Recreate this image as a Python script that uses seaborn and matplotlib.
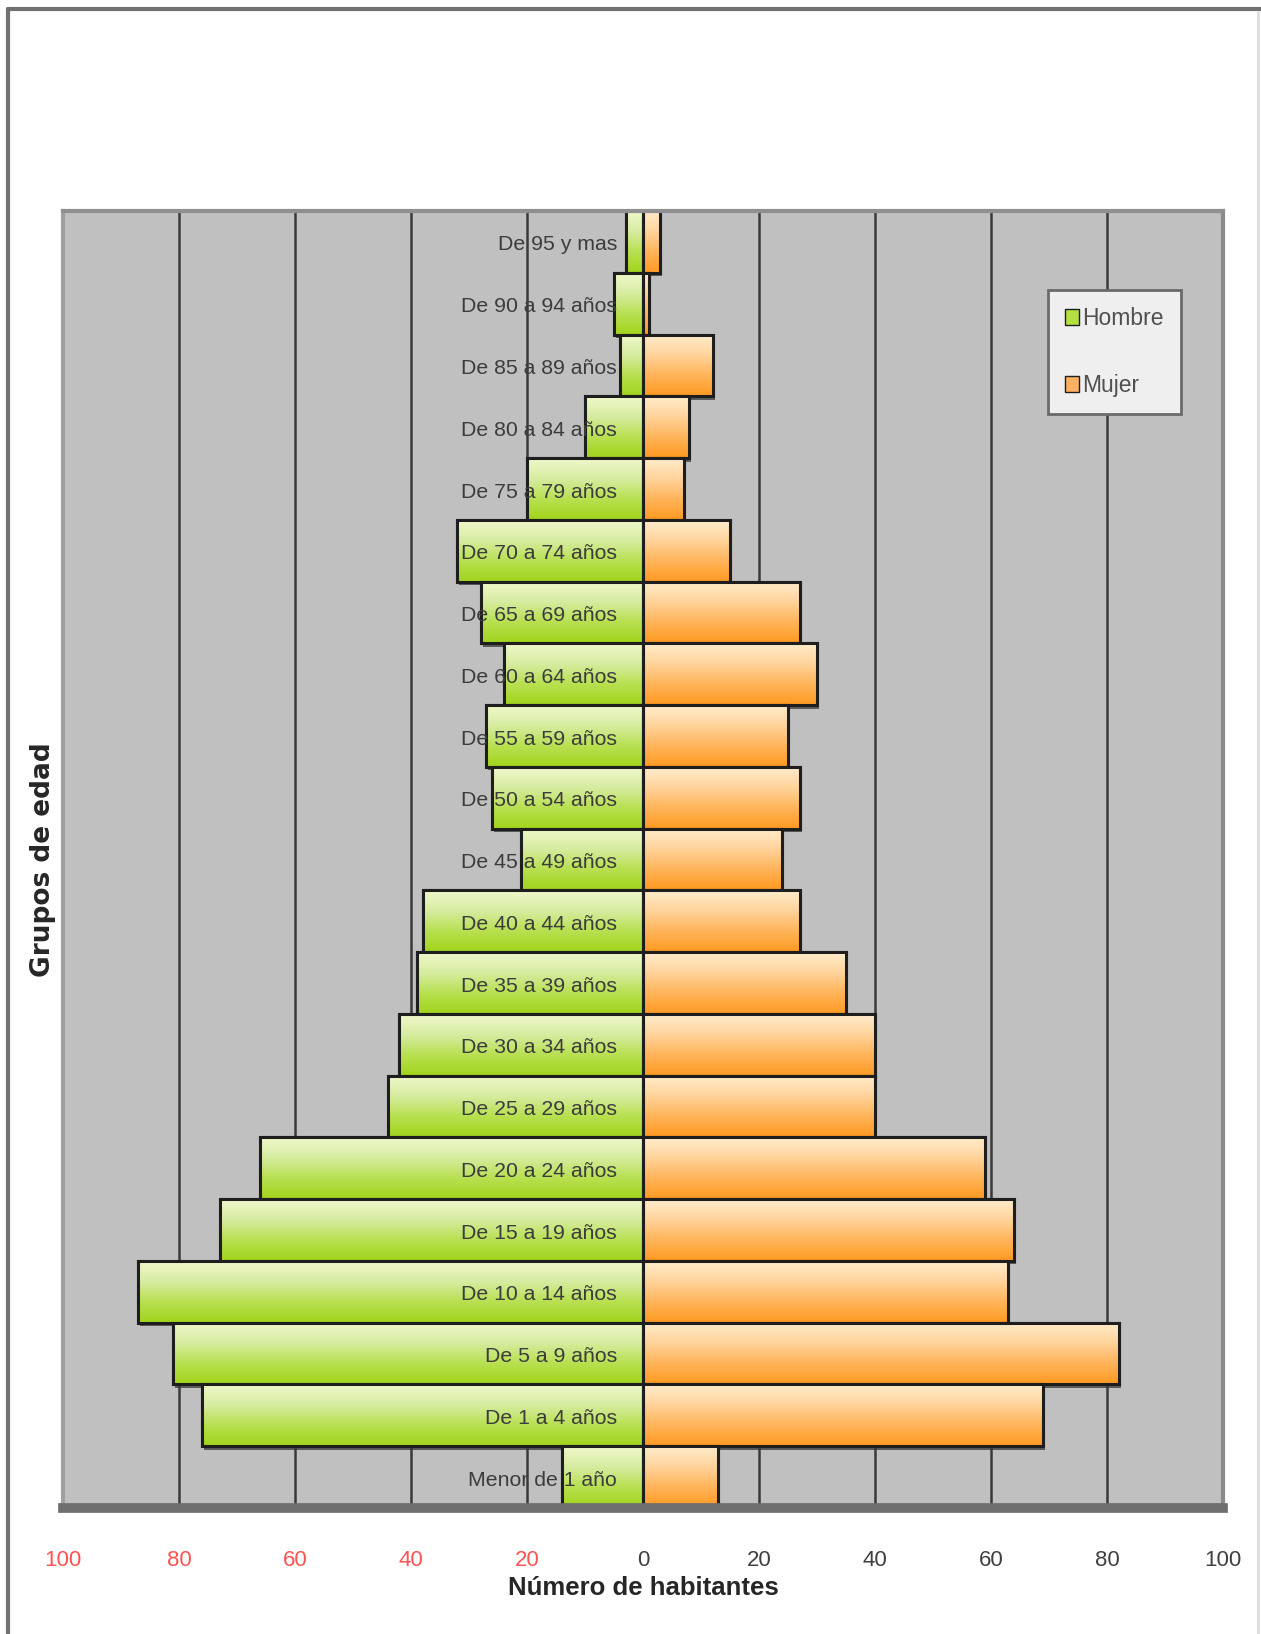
import numpy as np
import pandas as pd
import matplotlib
matplotlib.use("Agg")
import matplotlib.pyplot as plt
import matplotlib.font_manager as fm
import matplotlib.patheffects as pe
import seaborn as sns
from matplotlib.patches import Patch
from matplotlib.lines import Line2D
from matplotlib.colors import LinearSegmentedColormap

grupos = ["De 95 y mas", "De 90 a 94 años", "De 85 a 89 años", "De 80 a 84 años",
          "De 75 a 79 años", "De 70 a 74 años", "De 65 a 69 años", "De 60 a 64 años",
          "De 55 a 59 años", "De 50 a 54 años", "De 45 a 49 años", "De 40 a 44 años",
          "De 35 a 39 años", "De 30 a 34 años", "De 25 a 29 años", "De 20 a 24 años",
          "De 15 a 19 años", "De 10 a 14 años", "De 5 a 9 años", "De 1 a 4 años",
          "Menor de 1 año"]
hombre = [3, 5, 4, 10, 20, 32, 28, 24, 27, 26, 21, 38, 39, 42, 44, 66, 73, 87, 81, 76, 14]
mujer = [3, 1, 12, 8, 7, 15, 27, 30, 25, 27, 24, 27, 35, 40, 40, 59, 64, 63, 82, 69, 13]
ticks = [-100, -80, -60, -40, -20, 0, 20, 40, 60, 80, 100]

df = pd.DataFrame({"grupo": grupos, "hombre": [-v for v in hombre], "mujer": mujer})

sns.set_style("white")
installed = {f.name for f in fm.fontManager.ttflist}
if "Liberation Sans Narrow" in installed:
    base, k = "Liberation Sans Narrow", 1.2
else:
    base, k = "Liberation Sans", 1.0
plt.rcParams["font.family"] = [base, "DejaVu Sans"]

W, H = 1261, 1634
fig = plt.figure(figsize=(W / 100, H / 100), dpi=100)
ax = fig.add_axes([63 / W, 1 - 1508 / H, 1160 / W, 1297 / H])
ax.set_facecolor("#c0c0c0")

for x in ticks[1:-1]:
    ax.axvline(x, color="#3a3a3a", lw=1.8, zorder=0.5)

sns.barplot(data=df, x="hombre", y="grupo", order=grupos, color="#b0dc40",
            width=1.0, edgecolor="#1e1e1e", linewidth=2.2, ax=ax)
n_h = len(ax.patches)
sns.barplot(data=df, x="mujer", y="grupo", order=grupos, color="#ffab50",
            width=1.0, edgecolor="#1e1e1e", linewidth=2.2, ax=ax)

cm_green = LinearSegmentedColormap.from_list("g", ["#f0f8cc", "#d6eca0", "#b8e050", "#a2d41c"])
cm_orange = LinearSegmentedColormap.from_list("o", ["#ffeccc", "#ffd39a", "#ffb45a", "#ff9a22"])
grad = np.linspace(0, 1, 64).reshape(-1, 1)

# gradient fill + drop shadow per bar, outline redrawn on top
shadow = [pe.SimplePatchShadow(offset=(1.5, -2.5), shadow_rgbFace="#3a3a3a", alpha=0.75),
          pe.Normal()]
for i, p in enumerate(list(ax.patches)):
    row = i % n_h
    cmap = cm_green if i < n_h else cm_orange
    x0, y0 = p.get_x(), p.get_y()
    w, h = p.get_width(), p.get_height()
    p.set_zorder(2 + row * 0.01 + 0.006)
    im = ax.imshow(grad, cmap=cmap, aspect="auto", origin="upper",
                   extent=(x0, x0 + w, y0 + h, y0), zorder=2 + row * 0.01 + 0.008,
                   interpolation="bilinear")
    im.set_clip_path(p)
    p.set_facecolor("none")
    p.set_path_effects(shadow)
    ax.add_patch(plt.Rectangle((x0, y0), w, h, facecolor="none", edgecolor="#1e1e1e",
                               linewidth=2.2, zorder=2 + row * 0.01 + 0.009))

for i, g in enumerate(grupos):
    ax.text(-4.5, i + 0.05, g, ha="right", va="center", fontsize=15.3 * k,
            color="#3c3c3c", zorder=5)

ax.set_xlim(-100, 100)
ax.set_ylim(len(grupos) - 0.5, -0.5)
ax.set_xticks(ticks)
ax.set_xticklabels([str(abs(t)) for t in ticks], fontsize=16 * k)
for t, lab in zip(ticks, ax.get_xticklabels()):
    lab.set_color("#ff5252" if t < 0 else "#404040")
ax.tick_params(axis="x", direction="out", length=11, width=1.2, color="#9a9a9a", pad=19)
ax.set_yticks([])
ax.set_ylabel("Grupos de edad", fontsize=19, fontweight="bold", family="DejaVu Sans",
              labelpad=5)
ax.set_xlabel("Número de habitantes", fontsize=18.5 * k, fontweight="bold", labelpad=4)

ax.spines["bottom"].set_color("#6e6e6e")
ax.spines["bottom"].set_linewidth(7)
ax.spines["top"].set_color("#909090")
ax.spines["top"].set_linewidth(3)
ax.spines["left"].set_color("#a0a0a0")
ax.spines["left"].set_linewidth(3)
ax.spines["right"].set_color("#8a8a8a")
ax.spines["right"].set_linewidth(3)

handles = [Patch(facecolor="#b4e040", edgecolor="#1e1e1e", label="Hombre"),
           Patch(facecolor="#ffb060", edgecolor="#1e1e1e", label="Mujer")]
leg = ax.legend(handles=handles, loc="upper right", bbox_to_anchor=(0.964, 0.939),
                fontsize=16.5 * k, handlelength=0.6, handleheight=0.7, handletextpad=0.15,
                labelspacing=1.9, borderpad=0.75, fancybox=False, framealpha=1,
                edgecolor="#6a6a6a", facecolor="#efefef", borderaxespad=0)
leg.get_frame().set_linewidth(2)
leg.set_zorder(10)
for t in leg.get_texts():
    t.set_color("#505050")

fig.add_artist(Line2D([8 / W, 1], [1 - 9 / H, 1 - 9 / H], color="#707070", lw=3))
fig.add_artist(Line2D([8 / W, 8 / W], [0, 1 - 9 / H], color="#707070", lw=3))
fig.add_artist(Line2D([1258 / W, 1258 / W], [0, 1 - 12 / H], color="#dcdcdc", lw=2))

fig.savefig("out.png", dpi=100)
